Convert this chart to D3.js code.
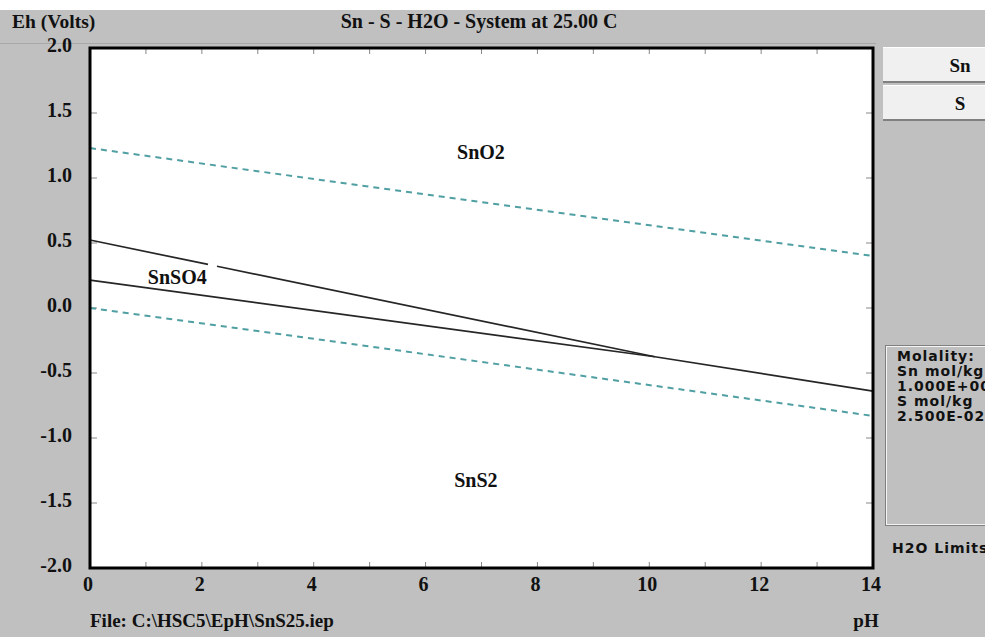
<!DOCTYPE html>
<html>
<head>
<meta charset="utf-8">
<script src="https://cdn.jsdelivr.net/npm/d3@7"></script>
<style>
  body { margin: 0; background: #fff; }
  svg { display: block; }
  .serif { font-family: "Liberation Serif", "Times New Roman", serif; font-weight: bold; fill: #111; }
  .sans { font-family: "DejaVu Sans", sans-serif; font-weight: bold; fill: #111; letter-spacing: 1px; }
</style>
</head>
<body>
<div id="chart"></div>
<script>
// chart values
const xTickValues = [0, 1, 2, 3, 4, 5, 6, 7, 8, 9, 10, 11, 12, 13, 14];
const xTickLabels = [0, 2, 4, 6, 8, 10, 12, 14];
const yTickLabels = [2.0, 1.5, 1.0, 0.5, 0.0, -0.5, -1.0, -1.5, -2.0];

// water stability limits (pH, Eh)
const o2Limit = [[0, 1.23], [14, 0.40]];
const h2Limit = [[0, 0.0], [14, -0.83]];

// phase boundaries (pH, Eh)
const sno2Snso4A = [[0, 0.523], [2.11, 0.335]];
const sno2Snso4B = [[2.27, 0.321], [10.1, -0.375]];
const snso4Sns2 = [[0, 0.215], [10.1, -0.375]];
const sno2Sns2 = [[10.1, -0.375], [14, -0.64]];

const regionNames = ["SnO2", "SnSO4", "SnS2"];
const regionPH = [6.99, 1.56, 6.9];
const regionEh = [1.2, 0.24, -1.32];

const elements = ["Sn", "S"];
const molality = ["Molality:", "Sn mol/kg", "1.000E+00", "S mol/kg", "2.500E-02"];

const W = 985, H = 637;
const plot = {left: 90, right: 873, top: 48, bottom: 568};

const svg = d3.select("#chart").append("svg")
    .attr("width", W)
    .attr("height", H);

// window background
svg.append("rect").attr("x", 0).attr("y", 10).attr("width", W).attr("height", H - 10)
    .attr("fill", "#c0c0c0");
svg.append("line").attr("x1", 0).attr("x2", 876).attr("y1", 43.5).attr("y2", 43.5)
    .attr("stroke", "#a8a8a8");

const x = d3.scaleLinear().domain([0, 14]).range([plot.left, plot.right]);
const y = d3.scaleLinear().domain([-2, 2]).range([plot.bottom, plot.top]);

svg.append("rect")
    .attr("x", plot.left).attr("y", plot.top)
    .attr("width", plot.right - plot.left).attr("height", plot.bottom - plot.top)
    .attr("fill", "#fff");

// inner ticks
const tickG = svg.append("g").attr("stroke", "#888").attr("stroke-width", 1);
xTickValues.forEach(function (v) {
    if (v === 0 || v === 14) return;
    tickG.append("line").attr("x1", x(v)).attr("x2", x(v))
        .attr("y1", plot.bottom).attr("y2", plot.bottom - 6);
    tickG.append("line").attr("x1", x(v)).attr("x2", x(v))
        .attr("y1", plot.top).attr("y2", plot.top + 6);
});
yTickLabels.forEach(function (v) {
    if (v === 2 || v === -2) return;
    tickG.append("line").attr("x1", plot.left).attr("x2", plot.left + 7)
        .attr("y1", y(v)).attr("y2", y(v));
    tickG.append("line").attr("x1", plot.right).attr("x2", plot.right - 7)
        .attr("y1", y(v)).attr("y2", y(v));
});

const line = d3.line().x(d => x(d[0])).y(d => y(d[1]));

[o2Limit, h2Limit].forEach(function (d) {
    svg.append("path").attr("d", line(d))
        .attr("fill", "none")
        .attr("stroke", "#4f9fa3")
        .attr("stroke-width", 2)
        .attr("stroke-dasharray", "6,5");
});

[sno2Snso4A, sno2Snso4B, snso4Sns2, sno2Sns2].forEach(function (d) {
    svg.append("path").attr("d", line(d))
        .attr("fill", "none")
        .attr("stroke", "#262626")
        .attr("stroke-width", 1.7);
});

// frame
svg.append("rect")
    .attr("x", plot.left).attr("y", plot.top)
    .attr("width", plot.right - plot.left).attr("height", plot.bottom - plot.top)
    .attr("fill", "none").attr("stroke", "#000").attr("stroke-width", 3);

// region labels
svg.selectAll(".region")
    .data(regionNames)
    .enter().append("text")
    .attr("class", "serif")
    .attr("x", (d, i) => x(regionPH[i]))
    .attr("y", (d, i) => y(regionEh[i]))
    .attr("dy", "0.35em")
    .attr("text-anchor", "middle")
    .attr("font-size", 20)
    .text(d => d);

// axis labels
svg.selectAll(".ylab")
    .data(yTickLabels)
    .enter().append("text")
    .attr("class", "serif")
    .attr("x", 72)
    .attr("y", d => y(d) - 3)
    .attr("dy", "0.35em")
    .attr("text-anchor", "end")
    .attr("font-size", 20)
    .text(d => d.toFixed(1));

svg.selectAll(".xlab")
    .data(xTickLabels)
    .enter().append("text")
    .attr("class", "serif")
    .attr("x", d => x(d) - 2)
    .attr("y", 591)
    .attr("text-anchor", "middle")
    .attr("font-size", 20)
    .text(d => d);

svg.append("text").attr("class", "serif").attr("x", 12).attr("y", 28)
    .attr("font-size", 19.5).text("Eh (Volts)");
svg.append("text").attr("class", "serif").attr("x", 479).attr("y", 28)
    .attr("text-anchor", "middle").attr("font-size", 20)
    .text("Sn - S - H2O - System at 25.00 C");
svg.append("text").attr("class", "serif").attr("x", 90).attr("y", 627)
    .attr("font-size", 19).text("File: C:\\HSC5\\EpH\\SnS25.iep");
svg.append("text").attr("class", "serif").attr("x", 866).attr("y", 627)
    .attr("text-anchor", "middle").attr("font-size", 19).text("pH");

// right panel
const panel = svg.append("g");
elements.forEach(function (el, i) {
    const by = 47 + i * 38;
    panel.append("rect").attr("x", 883).attr("y", by).attr("width", 110).attr("height", 36)
        .attr("fill", "#f0f0f0");
    panel.append("line").attr("x1", 883).attr("x2", 985).attr("y1", by + 35).attr("y2", by + 35)
        .attr("stroke", "#808080").attr("stroke-width", 2);
    panel.append("line").attr("x1", 883).attr("x2", 985).attr("y1", by + 0.5).attr("y2", by + 0.5)
        .attr("stroke", "#fff");
    panel.append("text").attr("class", "serif")
        .attr("x", 960).attr("y", by + 18).attr("dy", "0.35em")
        .attr("text-anchor", "middle").attr("font-size", 19)
        .text(el);
});

panel.append("rect").attr("x", 885.5).attr("y", 345.5).attr("width", 110).attr("height", 180)
    .attr("fill", "none").attr("stroke", "#808080");
panel.append("rect").attr("x", 886.5).attr("y", 346.5).attr("width", 110).attr("height", 178)
    .attr("fill", "none").attr("stroke", "#f4f4f4");

panel.selectAll(".mol")
    .data(molality)
    .enter().append("text")
    .attr("class", "sans")
    .attr("x", 897)
    .attr("y", (d, i) => 361 + i * 15)
    .attr("font-size", 14)
    .text(d => d);

panel.append("text").attr("class", "sans").attr("x", 892).attr("y", 553)
    .attr("font-size", 14).text("H2O Limits");
</script>
</body>
</html>
